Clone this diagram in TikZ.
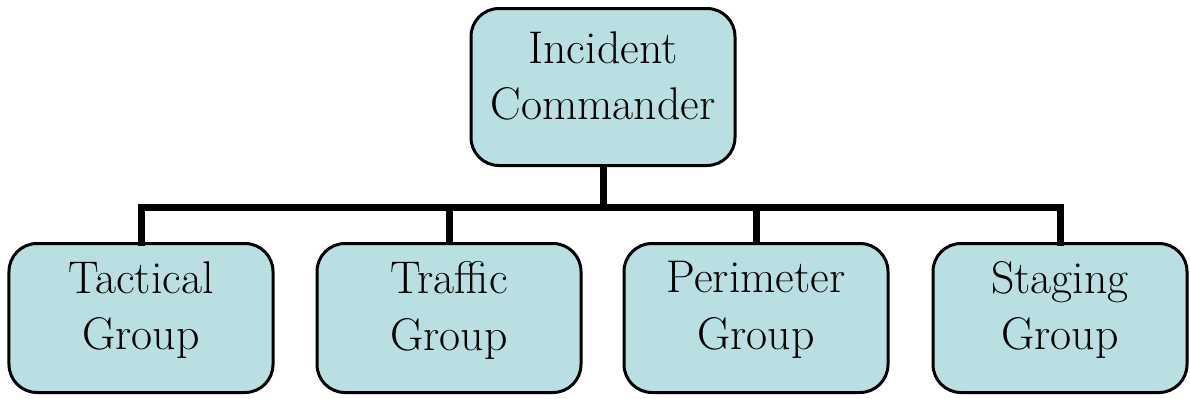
\documentclass[tikz,border=0pt]{standalone}
\begin{document}
\begin{tikzpicture}[x=1bp,y=-1bp,
  orgbox/.style={draw=black, line width=3bp, fill=boxblue, rounded corners=28bp,
    minimum width=264bp, inner sep=0pt},
  orgtext/.style={align=center, inner sep=0pt, font=\fontsize{46}{57}\selectfont},
  bar/.style={line width=7bp, line join=miter, line cap=rect}]
\definecolor{boxblue}{RGB}{186,223,227}
\useasboundingbox (0,0) rectangle (1190,398);
\node[orgbox, minimum height=157bp] (ic) at (603,87) {};
\node[orgbox, minimum height=149bp] (b1) at (141,318) {};
\node[orgbox, minimum height=149bp] (b2) at (449,318) {};
\node[orgbox, minimum height=149bp] (b3) at (756,318) {};
\node[orgbox, minimum height=149bp, minimum width=254bp] (b4) at (1060,318) {};
\node[orgtext] (ict) at ([yshift=11bp]ic.center) {Incident\\Commander};
\node[orgtext] (b1t) at ([yshift=8bp]b1.center) {Tactical\\Group};
\node[orgtext] (b2t) at ([yshift=8bp]b2.center) {Traffic\\Group};
\node[orgtext] (b3t) at ([yshift=8bp]b3.center) {Perimeter\\Group};
\node[orgtext] (b4t) at ([yshift=8bp]b4.center) {Staging\\Group};
\coordinate (bus) at (603,207);
\draw[line width=7bp] (ic.south) -- (ic.south |- bus);
\draw[bar] (b1.north) -- (b1.north |- bus) -- (b4.north |- bus) -- (b4.north);
\draw[line width=7bp] (b2.north) -- (b2.north |- bus);
\draw[line width=7bp] (b3.north) -- (b3.north |- bus);
\end{tikzpicture}
\end{document}
